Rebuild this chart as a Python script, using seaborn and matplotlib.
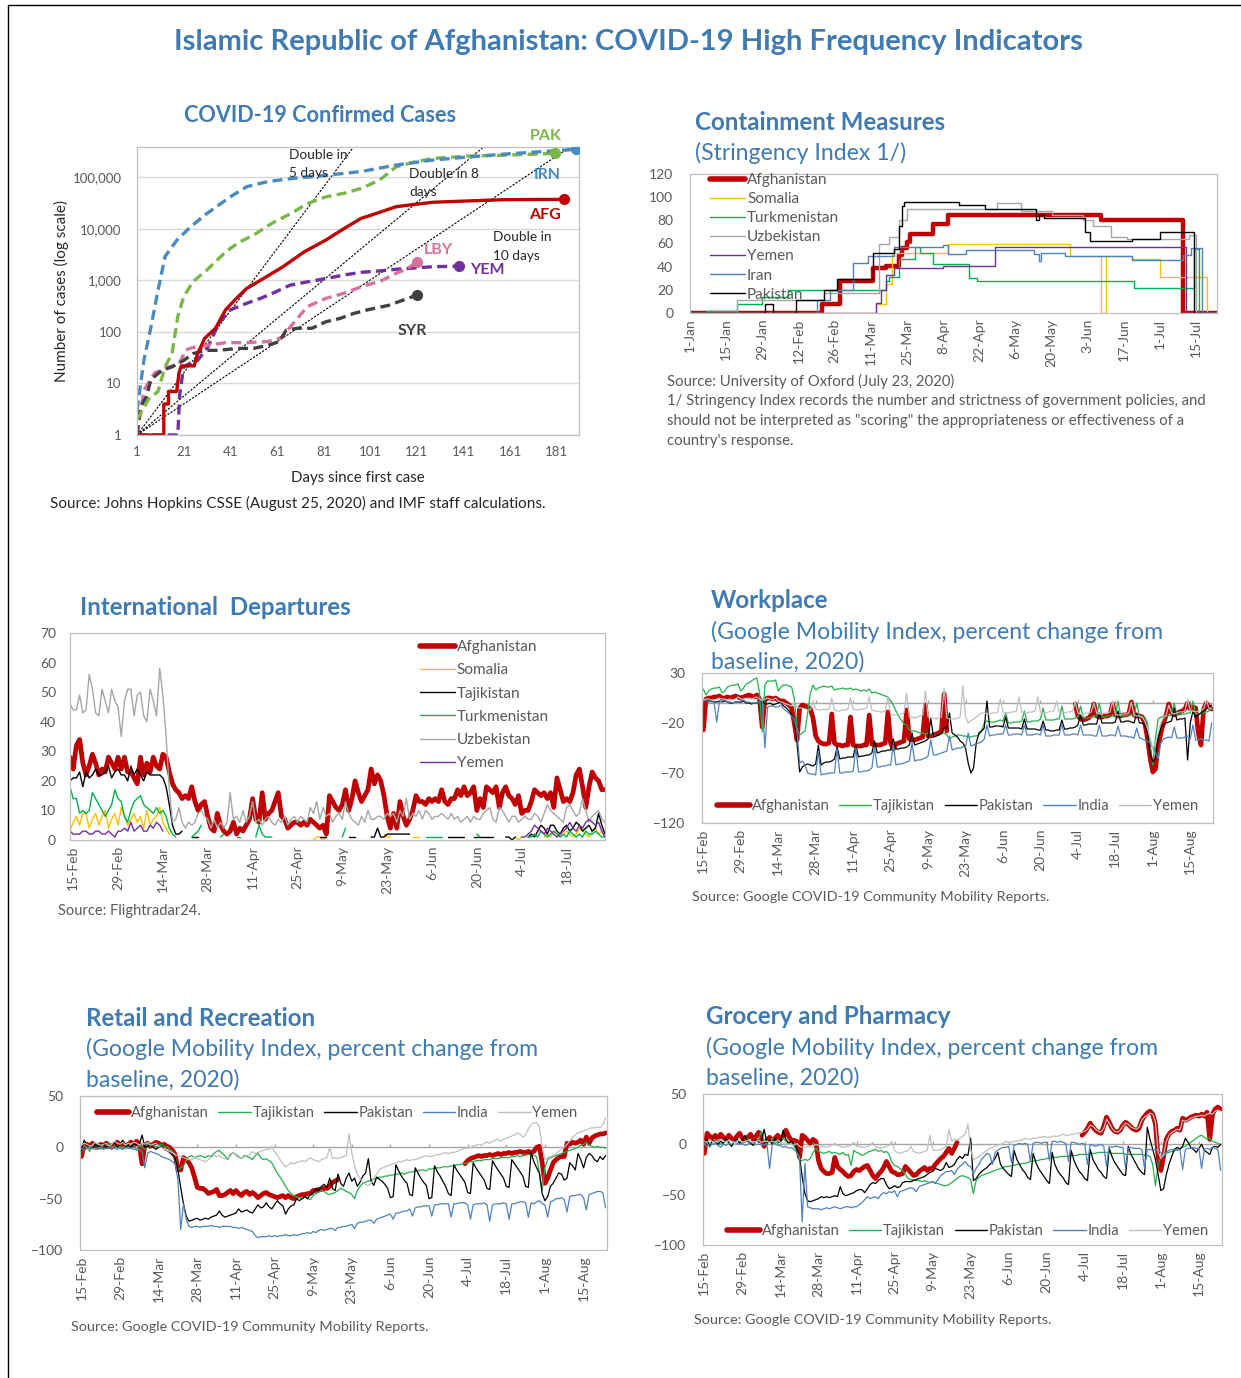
import numpy as np
import pandas as pd
import matplotlib
matplotlib.use('Agg')
import matplotlib.pyplot as plt
from matplotlib.lines import Line2D
from matplotlib.ticker import NullLocator
import seaborn as sns

sns.set_style('white')
plt.rcParams['font.family'] = ['Lato', 'DejaVu Sans']

W, H = 1241, 1378
BLUE = '#3F7AB3'
TICK = '#595959'
FRAME = '#BFBFBF'
RED = '#C00000'

# ---------------- COVID-19 confirmed cases (days since first case, cases)
cases_irn_day = [1, 4, 7, 10, 13, 18, 24, 31, 41, 48, 57, 67, 82, 97, 112, 128, 143, 158, 174, 189]
cases_irn = [3, 29, 126, 640, 2900, 6000, 11000, 20000, 42000, 66000, 83000, 95000, 110000,
             130000, 174000, 218000, 250000, 283000, 316000, 350000]
cases_pak_day = [1, 6, 10, 13, 16, 18.5, 21, 25, 31, 39, 45, 51, 59, 67, 74, 82, 89.5, 97, 105,
                 112, 120, 128, 143, 158, 180]
cases_pak = [2, 5, 7, 21, 38, 200, 480, 950, 1600, 3600, 5600, 7600, 13000, 20000, 31000, 42000,
             49000, 61000, 89000, 160000, 200000, 234000, 260000, 270000, 293000]
cases_afg_day = [1, 12.5, 12.5, 14.5, 14.5, 18, 19, 20, 25.5, 27, 30, 34.6, 39, 43, 48, 53, 57.5,
                 63.6, 72.7, 82, 89.5, 97, 105, 112, 120, 128, 143, 158, 184]
cases_afg = [1, 1, 4, 4, 7, 7, 16, 22, 22, 38, 75, 117, 270, 420, 700, 950, 1260, 1850, 3600, 6100,
             10000, 16000, 21000, 27000, 30000, 33000, 35000, 37000, 37500]
cases_syr_day = [1, 2.5, 5, 7, 11.7, 16, 21, 25, 30, 36, 44, 51, 57, 62, 65, 70, 76, 82, 88, 94,
                 100, 109, 115, 121]
cases_syr = [1, 3.5, 5.5, 12, 18, 21, 28, 38, 44, 44, 48, 48, 55, 65, 109, 118, 118, 158, 183,
             230, 270, 330, 415, 520]
cases_lby_day = [1, 4, 8.6, 14.7, 19, 22, 25, 31, 39, 48, 57, 63, 68, 74, 82, 89.5, 97, 106, 112,
                 117, 121]
cases_lby = [1, 7.5, 16, 21, 24, 45, 50, 55, 62, 62, 65, 78, 147, 310, 450, 560, 750, 1000, 1370,
             1700, 2300]
cases_yem_day = [1, 18.5, 19.3, 21, 24, 27, 31.5, 36, 40.7, 48, 54, 59, 66.6, 74, 82, 89.5, 97, 105,
                 112, 128, 139]
cases_yem = [1, 1, 6, 21, 25, 28, 52, 145, 265, 360, 450, 560, 810, 940, 1090, 1270, 1440, 1530,
             1650, 1850, 1900]
double_days = [5, 8, 10]
case_ticks = [1, 10, 100, 1000, 10000, 100000]
case_tick_labels = ['1', '10', '100', '1,000', '10,000', '100,000']
day_ticks = [1, 21, 41, 61, 81, 101, 121, 141, 161, 181]

# ---------------- Stringency index (date of change, new level)
str_afg_d = ['2020-01-01', '2020-02-21', '2020-02-28', '2020-03-12', '2020-03-17', '2020-03-22',
             '2020-03-23', '2020-03-25', '2020-03-26', '2020-04-04', '2020-04-10', '2020-06-08',
             '2020-07-10', '2020-07-23']
str_afg = [0, 8, 28, 39, 41, 50, 56, 61, 68, 77, 85, 80, 0, 0]
str_som_d = ['2020-01-01', '2020-03-13', '2020-03-17', '2020-03-19', '2020-04-10', '2020-05-27',
             '2020-06-08', '2020-06-10', '2020-06-20', '2020-07-01', '2020-07-19', '2020-07-23']
str_som = [0, 8, 25, 52, 60, 49, 0, 49, 47, 31, 0, 0]
str_tkm_d = ['2020-01-01', '2020-01-07', '2020-01-19', '2020-01-29', '2020-02-08', '2020-03-17',
             '2020-03-18', '2020-03-22', '2020-03-28', '2020-03-30', '2020-04-04', '2020-04-18',
             '2020-04-21', '2020-06-21', '2020-07-14', '2020-07-16', '2020-07-23']
str_tkm = [0, 2, 8, 14, 20, 28, 31, 47, 57, 52, 42, 30, 28, 22, 55, 0, 0]
str_uzb_d = ['2020-01-01', '2020-01-19', '2020-02-22', '2020-03-14', '2020-03-18', '2020-03-22',
             '2020-03-25', '2020-04-29', '2020-05-08', '2020-05-20', '2020-06-01', '2020-06-05',
             '2020-06-12', '2020-06-18', '2020-07-12', '2020-07-15', '2020-07-23']
str_uzb = [0, 11, 17, 60, 66, 80, 90, 95, 88, 85, 80, 75, 66, 64, 67, 0, 0]
str_yem_d = ['2020-01-01', '2020-03-13', '2020-03-15', '2020-03-17', '2020-03-20', '2020-04-08',
             '2020-04-28', '2020-07-11', '2020-07-23']
str_yem = [0, 9, 20, 33, 39, 41, 57, 0, 0]
str_irn_d = ['2020-01-01', '2020-02-19', '2020-02-24', '2020-03-04', '2020-03-10', '2020-03-20',
             '2020-04-08', '2020-04-10', '2020-04-17', '2020-05-13', '2020-05-15', '2020-05-16',
             '2020-05-25', '2020-06-20', '2020-07-10', '2020-07-13', '2020-07-17', '2020-07-23']
str_irn = [0, 11, 20, 43, 49, 57, 59, 51, 54, 51, 45, 52, 49, 46, 50, 56, 0, 0]
str_pak_d = ['2020-01-01', '2020-01-30', '2020-02-02', '2020-02-11', '2020-02-22', '2020-02-27',
             '2020-03-12', '2020-03-20', '2020-03-22', '2020-03-23', '2020-03-24', '2020-04-14',
             '2020-04-24', '2020-05-14', '2020-05-15', '2020-05-17', '2020-06-02', '2020-06-04',
             '2020-06-20', '2020-07-01', '2020-07-14', '2020-07-23']
str_pak = [0, 8, 0, 11, 20, 29, 52, 55, 75, 92, 96, 93, 90, 80, 85, 82, 70, 62, 64, 70, 0, 0]

# ---------------- International departures, daily from 14 Feb
dep_afg = [28, 24, 32, 34, 26, 22, 25, 29, 26, 22, 24, 23, 28, 26, 24, 28, 24, 28, 23, 23, 21,
           19, 28, 22, 26, 23, 28, 25, 24, 29, 28, 23, 19, 17, 16, 14, 15, 14, 18, 13, 10, 12,
           13, 8, 4, 3, 9, 5, 3, 2, 3, 6, 2, 4, 3, 5, 7, 14, 7, 6, 16, 7, 9,
           10, 13, 16, 8, 7, 4, 5, 6, 6, 5, 6, 5, 7, 6, 5, 4, 5, 2, 15, 13, 11,
           10, 12, 17, 10, 14, 20, 16, 13, 15, 17, 24, 19, 22, 20, 15, 8, 4, 9, 4, 13, 8,
           5, 7, 10, 15, 13, 13, 12, 14, 13, 14, 13, 17, 13, 12, 14, 14, 17, 15, 18, 15, 16,
           18, 10, 14, 11, 18, 17, 16, 18, 11, 16, 18, 15, 14, 12, 15, 9, 10, 10, 13, 17, 16,
           15, 16, 14, 16, 11, 21, 17, 13, 14, 13, 16, 22, 24, 18, 11, 18, 23, 21, 20, 17, 17]
dep_som = ([3, 6, 8, 5, 9, 9, 4, 7, 9, 5, 8, 10, 4, 7, 9, 5, 11, 8, 5, 7, 9, 6, 8, 4, 10, 5, 7, 8,
            11, 6, 4, 2] + [None] * 44 + [0, 1, 1, 0, 1] + [None] * 17 + [2, 1, 1] + [None] * 6
           + [1, 1, 1] + [None] * 29 + [1, 0, 1] + [None] * 6
           + [1, 2, 1, 3, 2, 1, 2, 3, 2, 1, 2, 4, 3, 2, 1, 3, 4, 2, 3, 1])
dep_taj = ([20, 21, 21, 23, 18, 23, 21, 22, 24, 22, 22, 23, 25, 21, 23, 24, 22, 22, 20, 25, 22,
            24, 22, 20, 23, 22, 22, 22, 22, 21, 18, 12, 5, 2, 2, 3] + [None] * 2 + [1, 1, 1]
           + [None] * 37 + [1, 1, 1] + [None] * 6 + [1, 1, 1] + [None] * 4 + [1, 1, 4, 1, 1]
           + [2, 2, 2, 2, 2, 2, 2, 2] + [None] * 11 + [1, 1, 1, 1, 1, 1] + [None] * 2
           + [1, 1, 1, 1, 1, 1, 1] + [None] * 3 + [1, 1, 0, 1] + [None] * 3
           + [1, 2, 1, 3, 5, 4, 2, 5, 5, 3, 2, 4, 5, 3, 4, 6, 5, 3, 4, 5, 3, 4, 9, 5, 2])
dep_tkm = ([18, 14, 14, 9, 10, 9, 10, 16, 14, 12, 10, 8, 10, 12, 17, 14, 13, 8, 6, 10, 13, 14, 15,
            12, 11, 10, 9, 11, 9, 10, 8, 4, 2, 1] + [None] * 4 + [1, 2, 3, 5] + [None] * 5
           + [1, 2] + [None] * 3 + [1, 1] + [None] * 4 + [1, 5, 2, 1, 1, 1] + [None] * 21
           + [1, 4] + [None] * 24 + [1, 1, 1, 1, 1, 1] + [None] * 10 + [2, 1] + [None] * 14
           + [1, 1, 2, 1, 3, 2, 1, 2, 3, 2, 1, 2, 1, 3, 2, 1, 2, 1, 3, 2, 2, 3, 2, 1, 1])
dep_uzb = [46, 44, 44, 49, 43, 44, 56, 51, 43, 42, 51, 47, 43, 51, 47, 45, 35, 47, 51, 51, 42,
           49, 50, 42, 40, 51, 47, 42, 58, 49, 35, 17, 6,
           7, 11, 6, 4, 6, 5, 6, 9, 10, 8, 7, 4, 7, 4, 6, 4, 6, 16, 7, 8,
           6, 10, 6, 8, 13, 6, 7, 5, 7, 8, 6, 5, 7, 6, 8, 5, 7, 8, 6, 8,
           7, 6, 11, 9, 13, 7, 11, 8, 9, 6, 8, 9, 7, 13, 9, 7, 6, 5, 8, 6,
           10, 7, 7, 8, 8, 7, 9, 8, 9, 6, 10, 8, 14, 7, 9, 8, 10, 7, 10, 9,
           7, 8, 8, 9, 8, 7, 9, 7, 8, 6, 7, 8, 6, 8, 7, 7, 9, 10, 11, 7,
           6, 11, 10, 8, 6, 8, 8, 6, 7, 8, 7, 7, 9, 8, 6, 9, 12, 10, 9, 8,
           7, 6, 11, 12, 10, 8, 9, 14, 10, 6, 8, 9, 10, 7, 6]
dep_yem = ([3, 2, 2, 2, 3, 3, 2, 2, 3, 3, 2, 2, 3, 2, 1, 3, 3, 4, 3, 6, 3, 4, 5, 3, 3, 5, 4, 6, 5,
            3] + [None] * 111
           + [1, 1, 2, 3, 5, 4, 3, 2, 4, 3, 2, 1, 2, 3, 4, 6, 4, 3, 5, 4, 6, 7, 6, 5, 6, 3, 1])

# ---------------- Google mobility, daily from Sat 15 Feb (one row per week)
N = None
work_afg = [-27, 4, 5, 5, 6, 6, 7,  5, 5, 6, 5, 6, 7, 6,  5, 6, 7, 8, 7, 6, 8,
            4, -24, 3, 5, 5, 4, 5,  3, 2, 2, 0, -2, -5, -20,  -37, -5, -2, -3, -4, -6, -15,
            -33, -38, -40, -41, -41, -40, -11,  -40, -42, -42, -43, -42, -42, -14,
            -42, -43, -43, -43, -42, -42, -12,  -41, -42, -42, -42, -41, -40, -9,
            -40, -46, -41, -40, -39, -38, -7,  -36, -37, -37, -36, -35, -34, -2,
            -33, -33, -32, -31, -30, -28, 9,  -28, N, N, N, N, N, N,
            N, N, N, N, N, N, N,  N, N, N, N, N, N, N,  N, N, N, N, N, N, N,
            N, N, N, N, N, N, N,  N, N, N, N, N, N, N,  N, N, N, N, N, N, -1,
            -13, -16, -17, -16, -15, -12, -1,  -13, -14, -14, -13, -13, -12, -1,
            -12, -13, -13, -12, -12, -11, 1,  -12, -13, -13, -14, -20, -35, -55,
            -69, -66, -42, -30, -20, -12, -1,  -10, -12, -10, -9, -8, -6, 0,
            -6, -4, -5, -30, -42, -6, 0,  -4, -6]
work_taj = [14, 8, 12, 14, 15, 15, 16,  10, 12, 16, 17, 18, 18, 19,  12, 15, 19, 20, 22, 24, 25,
            10, -29, 18, 22, 22, 22, 23,  12, 16, 18, 18, 17, 16, 4,  -25, -32, -30, -28, -10, 10, 18,
            13, 15, 16, 17, 16, 16, 17,  13, 14, 14, 15, 14, 14, 15,  13, 14, 13, 12, 13, 12, 14,
            10, 11, 10, 9, 8, 7, 6,  2, -2, -8, -13, -17, -21, -22,  -27, -28, -28, -29, -30, -30, -31,
            -30, -31, -32, -33, -32, -31, -30,  -32, -36, -34, -33, -32, -32, -33,
            -33, -34, -34, -33, -33, -32, -28,  -20, -18, -19, -19, -19, -18, -17,
            -18, -10, -20, -20, -19, -19, -19,  -18, -8, -19, -19, -18, -18, -18,
            -16, -5, -17, -17, -17, -17, -16,  -16, -3, -16, -16, -16, -16, -15,
            -14, -3, -15, -15, -15, -14, -14,  -13, 0, -14, -14, -13, -13, -13,
            -13, 2, -13, -13, -13, -12, -12,  -13, 0, -14, -14, -14, -20, -45,
            -62, -35, -16, -14, -14, -13, -13,  -12, 0, -12, -12, -11, -11, -10,
            -10, 2, -11, -11, -10, -10, -9,  -8, -4]
work_pak = [2, 3, 2, 2, 1, 1, 2,  1, 2, 1, 0, 0, 1, 1,  1, 2, 0, 0, -1, 0, 0,  1, 2, -1, -1, 0, -2, -1,
            0, 1, -3, -5, -8, -12, -15,  -40, -69, -64, -62, -61, -62, -63,
            -61, -42, -62, -60, -59, -59, -58,  -56, -44, -56, -55, -55, -54, -54,
            -54, -42, -54, -53, -53, -52, -52,  -50, -38, -50, -49, -48, -48, -47,
            -47, -36, -46, -46, -45, -45, -44,  -42, -30, -42, -41, -40, -39, -38,
            -36, -15, -34, -33, -32, -30, -25,  -25, -10, -30, -32, -34, -38, -40,
            -45, -60, -70, -65, -40, -30, -28,  -25, 2, -24, -24, -23, -23, -23,
            -24, -14, -25, -25, -25, -25, -25,  -26, -16, -26, -26, -26, -26, -27,
            -27, -18, -27, -27, -28, -28, -27,  -27, -17, -26, -26, -25, -25, -24,
            -22, -12, -22, -22, -21, -21, -21,  -21, -10, -20, -20, -20, -20, -20,
            -19, -8, -19, -19, -18, -18, -19,  -20, -10, -20, -20, -22, -30, -50,
            -59, -55, -35, -25, -22, -20, -19,  -18, -5, -17, -16, -16, -15, -57,
            -20, -8, -14, -12, -10, -8, -6,  -4, -2]
work_ind = [2, 3, 1, 1, 1, -19, 1,  2, 3, 1, 1, 0, 1, 1,  2, 3, 1, 1, 0, 0, 0,
            1, 3, -45, -4, -3, -3, -4,  -4, -2, -6, -8, -10, -13, -16,  -28, -60, -58, -62, -70, -71, -71,
            -72, -48, -72, -71, -71, -70, -70,  -70, -46, -70, -70, -69, -69, -69,
            -68, -45, -69, -69, -68, -68, -67,  -65, -44, -64, -64, -63, -63, -62,
            -62, -42, -62, -61, -61, -60, -59,  -58, -40, -58, -57, -57, -56, -55,
            -53, -37, -52, -52, -51, -50, -49,  -48, -33, -47, -46, -45, -45, -44,
            -44, -30, -43, -42, -41, -40, -39,  -36, -22, -33, -32, -32, -31, -31,
            -31, -22, -32, -32, -31, -31, -31,  -32, -22, -32, -32, -32, -31, -31,
            -32, -22, -33, -33, -33, -32, -32,  -32, -21, -32, -32, -32, -31, -31,
            -32, -22, -32, -32, -32, -32, -33,  -33, -22, -33, -33, -33, -32, -32,
            -33, -23, -33, -33, -33, -34, -34,  -35, -25, -35, -36, -37, -38, -40,
            -45, -50, -55, -40, -36, -35, -34,  -35, -24, -35, -35, -35, -34, -33,
            -36, -22, -37, -37, -36, -37, -37,  -38, -20]
work_yem = [3, 4, 4, 3, 3, 4, 5,  4, 4, 3, 4, 3, 4, 6,  4, 4, 5, 4, 4, 5, 6,  4, 3, 4, 5, 4, 3, 5,
            2, 1, 0, -1, -2, -3, 0,  -4, -5, -5, -6, -7, -7, 2,  -6, -7, -7, -6, -7, -6, 5,
            -7, -8, -8, -7, -7, -6, 5,  -6, -7, -7, -6, -6, -5, 6,  -7, -8, -8, -9, -9, -8, 6,
            -11, -12, -12, -12, -11, -10, 10,  -14, -14, -15, -14, -13, -12, 12,
            -14, -15, -15, -16, -15, -14, 15,  -15, -16, -16, -16, -15, -14, 17,
            -14, -20, -18, -16, -14, -12, -10,  -10, -11, -11, -10, -10, -9, 4,
            -9, -10, -10, -9, -9, -8, 6,  -9, -10, -10, -9, -9, -8, 6,  -9, -10, -10, -9, -8, -8, 2,
            -9, -10, -10, -9, -9, -8, 1,  -10, -11, -11, -10, -10, -9, 0,  -10, -11, -11, -10, -10, -9, 2,
            -11, -12, -12, -11, -11, -10, 1,  -12, -13, -13, -14, -18, -25, -35,
            -45, -40, -30, -20, -15, -12, -2,  -10, -11, -10, -9, -9, -8, 4,
            -8, -8, -9, -8, -7, -6, 3,  -5, -6]

ret_afg = [-9, 2, 3, 1, 4, 2, 0,  3, 1, 4, 2, 0, 3, 5,  2, 4, 1, 3, 5, 2, 6,  3, -16, 2, 4, 1, 3, 5,
           4, 2, 3, 1, 0, -3, -7,  -22, -22, -10, -12, -15, -20, -29,
           -39, -40, -40, -42, -45, -44, -43,  -41, -47, -47, -46, -44, -42, -45,
           -42, -45, -47, -44, -43, -46, -44,  -46, -49, -47, -45, -44, -46, -47,
           -48, -49, -48, -47, -49, -47, -49,  -50, -48, -47, -46, -46, -45, -45,
           -42, -42, -41, -41, -40, -40, -38,  -34, -33, -31, N, N, N, N,
           N, N, N, N, N, N, N,  N, N, N, N, N, N, N,  N, N, N, N, N, N, N,
           N, N, N, N, N, N, N,  N, N, N, N, N, N, N,  N, N, N, N, N, N, -16,
           -13, -11, -10, -9, -8, -9, -8,  -8, -7, -8, -7, -6, -7, -6,  -6, -5, -6, -5, -5, -4, -5,
           -5, -4, -5, -4, 0, 1, -15,  -35, -30, -22, -15, -12, -10, -9,  -9, 4, 3, 5, 4, 5, 7,
           3, 10, 4, 9, 11, 12, 13,  13, 14]
ret_taj = [-3, 2, 0, -4, 1, 3, 0,  -2, 3, 1, 5, -1, 2, 0,  1, -2, 3, 0, 4, 2, -3,  2, 0, -2, 4, 1, 3, 0,
           2, 3, 0, 1, -2, -4, -8,  -22, -20, -18, -13, -9, -8, -10,  -9, -8, -9, -10, -8, -9, -6,
           -4, -3, -6, -8, -12, -7, -5,  -7, -9, -11, -8, -9, -10, -12,  -8, -6, -10, -12, -11, -13, -15,
           -20, -25, -29, -33, -38, -42, -45,  -47, -48, -49, -50, -48, -50, -51,
           -47, -45, -44, -42, -43, -45, -46,  -45, -44, -42, -40, -41, -43, -44,
           -46, -50, -42, -38, -35, -34, -33,  -32, -31, -30, -29, -29, -28, -28,
           -27, -27, -26, -26, -25, -26, -25,  -24, -24, -23, -23, -22, -22, -23,
           -21, -21, -20, -20, -20, -19, -19,  -19, -18, -18, -17, -17, -16, -16,
           -15, -14, -14, -13, -13, -13, -12,  -12, -12, -11, -11, -11, -10, -10,
           -10, -10, -9, -9, -8, -9, -8,  -8, -7, -7, -8, -9, -25, -42,
           -20, -12, -10, -9, -8, -7, -6,  -5, -4, -3, -2, -1, 0, 2,  3, 5, 2, 1, 0, 1, 0,  0, -1]
ret_pak = [-3, 7, 2, 0, -1, 3, 1,  2, 4, 0, 1, 3, 5, 0,  3, 7, 1, 2, 0, 4, 2,  3, 12, 0, 1, 2, 0, -2,
           0, 1, -2, -3, -5, -8, -10,  -22, -39, -55, -67, -72, -71, -70,
           -69, -71, -70, -69, -70, -68, -67,  -66, -62, -66, -68, -67, -66, -65,
           -64, -60, -63, -62, -61, -63, -64,  -60, -56, -59, -58, -54, -58, -60,
           -56, -52, -55, -57, -65, -60, -57,  -56, -50, -52, -50, -48, -50, -46,
           -45, -40, -42, -38, -36, -39, -30,  -40, -42, -26, -35, -38, -30, -25,
           -33, -30, -38, -34, -28, -25, -11,  -33, -37, -29, -31, -33, -36, -40,
           -49, -48, -17, -23, -28, -32, -35,  -46, -47, -20, -25, -30, -34, -37,
           -50, -49, -18, -24, -28, -33, -38,  -45, -47, -17, -22, -26, -30, -34,
           -44, -45, -15, -20, -24, -28, -32,  -40, -41, -13, -18, -22, -26, -30,
           -38, -39, -12, -16, -20, -24, -28,  -38, -39, -5, -14, -20, -25, -45,
           -52, -48, -38, -35, -30, -25, -26,  -32, -30, -15, -18, -22, -6, -12,
           -20, -10, -6, -8, -12, -14, -9,  -12, -8]
ret_ind = [-1, -3, -1, 0, -1, -2, -1,  0, -2, -1, -1, 0, -1, -2,  -1, -2, 0, -1, -1, -2, -2,
           -2, -4, -20, -6, -4, -5, -6,  -7, -9, -10, -11, -12, -14, -16,  -32, -80, -55, -70, -77, -78, -77,
           -77, -78, -77, -77, -77, -76, -77,  -77, -78, -77, -77, -77, -77, -78,
           -78, -79, -78, -79, -80, -81, -82,  -86, -88, -87, -87, -87, -86, -87,
           -86, -87, -86, -86, -85, -86, -86,  -85, -86, -85, -84, -84, -83, -84,
           -82, -83, -81, -80, -81, -80, -79,  -79, -81, -78, -78, -77, -77, -76,
           -75, -79, -74, -73, -73, -72, -71,  -71, -74, -70, -69, -68, -67, -66,
           -65, -70, -64, -64, -63, -62, -62,  -60, -67, -59, -58, -58, -57, -57,
           -57, -67, -56, -56, -55, -55, -55,  -55, -68, -55, -55, -54, -54, -54,
           -56, -70, -56, -55, -55, -55, -54,  -56, -72, -56, -55, -55, -55, -54,
           -55, -70, -55, -55, -54, -53, -53,  -54, -68, -54, -55, -53, -52, -55,
           -56, -68, -53, -52, -50, -50, -49,  -51, -63, -48, -47, -47, -46, -46,
           -49, -61, -46, -45, -44, -43, -43,  -44, -59]
ret_yem = [2, 4, 3, 1, 2, 5, 3,  2, 3, 4, 1, 3, 6, 4,  3, 5, 2, 4, 3, 5, 4,  2, 4, 3, 5, 2, 3, 4,
           1, 0, -2, -3, -4, -5, -7,  -8, -9, -10, -11, -12, -12, -10,  -11, -12, -13, -14, -12, -10, -8,
           -9, -8, -10, -11, -10, -9, -5,  -8, -10, -11, -9, -8, -7, -4,  -6, -5, -4, -3, -2, -2, 1,
           -4, -8, -12, -16, -19, -17, -15,  -16, -15, -14, -13, -14, -12, -10,
           -12, -13, -14, -12, -11, -10, 0,  -11, -10, -11, -10, -9, -8, 13,
           -5, -18, -26, -30, -34, -36, -37,  -35, -30, -26, -22, -20, -19, -18,
           -17, -16, -15, -14, -14, -13, -12,  -13, -12, -12, -11, -10, -9, -8,
           -9, -9, -8, -7, -7, -6, -5,  -6, -5, -5, -4, -3, -2, -1,  -1, 0, 1, 2, 3, 2, 4,
           5, 4, 6, 7, 8, 6, 8,  9, 10, 11, 12, 14, 13, 10,  12, 18, 22, 24, 24, 20, 1,
           -12, -10, -9, -8, -6, -4, -2,  0, 3, 6, 10, 12, 14, 15,  16, 17, 18, 19, 19, 20, 19,  22, 29]

gro_afg = [-9, 11, 8, 6, 9, 5, 10,  7, 5, 9, 6, 4, 8, 11,  6, 4, 7, 10, 5, 8, 12,  5, -2, 4, 7, 3, 6, 9,
           5, 8, 14, 8, 4, 4, 3,  -13, 9, 7, 4, 1, 5, 3,  -16, -24, -27, -29, -29, -28, -13,
           -22, -25, -27, -30, -32, -31, -27,  -25, -26, -24, -22, -21, -26, -31,
           -34, -30, -27, -23, -17, -22, -27,  -28, -30, -30, -29, -22, -25, -28,
           -31, -30, -27, -25, -23, -26, -24,  -24, -20, -17, -14, -12, -8, -4,
           -9, -4, 2, N, N, N, N,  N, N, N, N, N, N, N,  N, N, N, N, N, N, N,
           N, N, N, N, N, N, N,  N, N, N, N, N, N, N,  N, N, N, N, N, N, N,  N, N, N, N, N, N, 9,
           12, 16, 21, 17, 14, 12, 11,  18, 27, 22, 16, 13, 12, 14,  19, 22, 20, 17, 15, 14, 16,
           24, 28, 31, 33, 30, 20, -13,  -26, -12, 5, 10, 13, 14, 16,  14, 26, 24, 25, 27, 28, 29,
           28, 30, 28, 32, 5, 30, 35,  37, 35]
gro_taj = [1, 2, -3, 3, 4, 1, 0,  2, 5, 1, -2, 3, 4, 2,  1, 3, 6, 2, -1, 4, 5,  13, 3, 4, 2, 6, 3, 1,
           4, 6, 3, 1, 2, -2, -6,  -17, -16, -15, -16, -14, -8, -4,  -7, -8, -9, -8, -7, -9, -8,
           -9, -10, -8, -11, -10, -21, -6,  -8, -9, -11, -10, -8, -7, -6,  -5, -7, -6, -8, -7, -10, -18,
           -21, -22, -24, -26, -30, -34, -35,  -35, -36, -36, -37, -36, -37, -38,
           -37, -38, -39, -40, -41, -41, -40,  -38, -36, -34, -32, -31, -32, -33,
           -35, -49, -36, -33, -31, -30, -29,  -28, -27, -26, -25, -24, -23, -22,
           -22, -21, -21, -20, -20, -19, -19,  -18, -17, -17, -16, -16, -15, -15,
           -14, -14, -13, -13, -13, -12, -12,  -12, -12, -11, -11, -11, -10, -10,
           -10, -10, -9, -9, -9, -8, -8,  -8, -8, -8, -9, -9, -9, -9,  -9, -10, -10, -10, -10, -10, -10,
           -10, -11, -11, -12, -20, -41, -20,  -12, -10, -9, -8, -7, -6, -5,  -4, -3, -2, 0, 2, 4, 6,
           8, 9, 7, 5, 6, 3, 2,  1, 0]
gro_pak = [2, 5, -1, 4, 2, 0, 3,  1, 6, 2, -2, 3, 5, 1,  4, 9, 3, 1, -1, 5, 2,  3, 15, 2, 4, 0, 6, 3,
           2, 14, 5, 1, 3, 0, -4,  -12, -32, -49, -56, -57, -56, -55,  -54, -52, -53, -52, -53, -52, -51,
           -52, -42, -49, -51, -50, -49, -48,  -46, -45, -45, -48, -44, -40, -38,
           -39, -36, -34, -34, -40, -44, -43,  -41, -43, -42, -38, -37, -37, -37,
           -36, -35, -34, -33, -32, -30, -28,  -27, -24, -25, -26, -24, -18, -23,
           -22, -20, -15, -12, -14, -10, -11,  6, -36, -34, -30, -27, -25, -23,
           -20, -18, -14, -8, -20, -24, -27,  -30, -32, -6, -15, -20, -25, -28,
           -33, -35, -9, -18, -24, -28, -32,  -36, -39, -8, -20, -26, -30, -33,
           -38, -40, -6, -16, -22, -27, -30,  -34, -36, -5, -15, -20, -25, -28,
           -32, -34, -4, -12, -18, -22, -26,  -30, -31, -2, -10, -15, -20, -25,
           -28, -30, 17, 5, -5, -15, -30,  -46, -44, -30, -20, -12, -5, -3,
           -5, -2, 6, 2, -3, -5, -8,  -4, 0, -6, -8, -10, -3, -2,  -3, 0]
gro_ind = [0, -2, 1, 0, 1, -1, -3,  0, -1, 1, 0, 2, 1, 0,  1, -1, 0, 2, 1, 0, 0,  0, -1, 1, -24, 0, 1, -1,
           -1, -3, -2, -4, -3, -5, -8,  -12, -77, -19, -62, -63, -64, -64,  -64, -65, -64, -63, -64, -63, -62,
           -63, -64, -63, -62, -62, -63, -62,  -62, -60, -58, -55, -52, -54, -53,
           -52, -54, -50, -48, -49, -47, -48,  -46, -52, -47, -46, -45, -44, -43,
           -44, -47, -42, -41, -40, -39, -38,  -37, -39, -35, -31, -29, -27, -27,
           -26, -30, -25, -22, -20, -17, -21,  -22, -29, -24, -20, -15, -12, -9,
           -10, -20, -8, -6, -4, -3, -3,  -2, -18, -1, 0, 1, 0, 1,  0, -17, 1, 2, 2, 1, 2,
           2, -16, 3, 3, 2, 3, 2,  1, -17, 2, 2, 1, 0, 1,  0, -20, 0, -1, -2, -1, 0,
           -2, -22, -2, -3, -2, -2, -3,  -3, -23, -4, -3, -4, -4, -4,  -5, -24, -5, -5, -6, -5, -6,
           -8, -12, -8, -6, -5, -5, -6,  -5, -25, -5, -4, -4, -3, -4,  -4, -24, -5, -4, -5, -3, -4,
           -5, -26]
gro_yem = [3, 2, 4, 3, 2, 4, 5,  3, 2, 4, 3, 2, 3, 5,  2, 3, 4, 3, 2, 3, 4,  2, 3, 3, 2, 3, 2, 4,
           2, 1, 1, 0, 0, -1, 1,  -2, -3, -3, -2, -3, -2, 0,  -1, -2, -2, -3, -2, -1, 1,
           -1, -2, -3, -2, -2, -1, 2,  -2, -2, -3, -3, -2, -1, 2,  -3, -3, -4, -3, -2, -1, 3,
           -6, -8, -9, -8, -7, -6, -2,  -7, -8, -9, -8, -7, -6, 9,  -5, -6, -6, -5, -4, -2, 15,
           3, 5, 4, 6, 8, 10, 20,  -5, -15, -14, -12, -10, -8, -6,  -4, -3, -2, -1, 0, 1, 3,
           2, 2, 3, 3, 4, 4, 6,  5, 5, 6, 6, 7, 7, 8,  7, 7, 8, 8, 8, 9, 10,  9, 9, 10, 10, 11, 11, 12,
           13, 15, 19, 18, 15, 13, 12,  16, 25, 21, 16, 13, 12, 14,  18, 21, 20, 17, 16, 15, 17,
           24, 27, 29, 31, 30, 22, -8,  -14, -10, 3, 9, 12, 13, 15,  14, 24, 23, 24, 26, 27, 28,
           28, 29, 28, 30, 31, 30, 33,  34, 33]

mob_start = '2020-02-15'
mob_ticks = pd.date_range('2020-02-15', '2020-08-15', freq='14D')
dep_ticks = pd.date_range('2020-02-15', '2020-07-18', freq='14D')
str_ticks = pd.date_range('2020-01-01', '2020-07-15', freq='14D')

fig = plt.figure(figsize=(W / 100, H / 100), dpi=100)


def ax_at(l, t, r, b):
    ax = fig.add_axes([l / W, 1 - b / H, (r - l) / W, (b - t) / H])
    for s in ax.spines.values():
        s.set_color(FRAME)
        s.set_linewidth(0.9)
    ax.tick_params(labelcolor=TICK, labelsize=10, length=0)
    return ax


def txt(x, y, s, **kw):
    kw.setdefault('va', 'center')
    fig.text(x / W, 1 - y / H, s, **kw)


def line(ax, x, y, **kw):
    s = pd.Series(np.array(y, dtype=float), index=x)
    ok = s.notna()
    grp = (~ok).cumsum()
    for _, seg in s[ok].groupby(grp[ok]):
        if len(seg) > 1:
            sns.lineplot(x=seg.index, y=seg.values, ax=ax, estimator=None, sort=False,
                         legend=False, **kw)


def date_axis(ax, ticks, lo, hi):
    ax.set_xticks(ticks)
    ax.set_xticklabels([f'{d.day}-{d.strftime("%b")}' for d in ticks], rotation=90)
    ax.set_xlim(pd.Timestamp(lo), pd.Timestamp(hi))
    ax.set_xlabel('')
    ax.set_ylabel('')


def legend(ax, items, size=11, **kw):
    handles = [Line2D([], [], color=c, lw=lw) for _, c, lw in items]
    ax.legend(handles, [n for n, _, _ in items], frameon=False, prop={'size': size},
              labelcolor=TICK, borderpad=0, borderaxespad=0, handletextpad=0.12, **kw)


thick = dict(color=RED, lw=3.4, solid_capstyle='round', solid_joinstyle='round')
TITLE = dict(fontsize=17.4, fontweight='bold', color=BLUE)
SUB = dict(fontsize=16.6, color=BLUE)

# outer frame and main title
fig.add_artist(Line2D([8 / W, 8 / W], [0, 1 - 5 / H], color='black', lw=1))
fig.add_artist(Line2D([8 / W, 1], [1 - 5 / H, 1 - 5 / H], color='black', lw=1))
txt(628, 42, 'Islamic Republic of Afghanistan: COVID-19 High Frequency Indicators',
    ha='center', fontsize=21, fontweight='bold', color=BLUE)

# ---------------- panel 1
ax = ax_at(137, 147, 579, 435)
ax.set_yscale('log')
ax.yaxis.grid(True, color='#D9D9D9', lw=1)
ax.set_axisbelow(True)
for n in double_days:
    sns.lineplot(x=[1, 190], y=[1, 2 ** (189 / n)], ax=ax, color='black', lw=0.8,
                 linestyle=(0, (2, 1.3)), estimator=None, sort=False, legend=False)
cases = [(cases_yem_day, cases_yem, '#7030A0', True), (cases_lby_day, cases_lby, '#D7729F', True),
         (cases_syr_day, cases_syr, '#404040', True), (cases_pak_day, cases_pak, '#7AB648', True),
         (cases_irn_day, cases_irn, '#4A8BBF', True), (cases_afg_day, cases_afg, RED, False)]
for d, v, c, dashed in cases:
    sns.lineplot(x=d, y=v, ax=ax, color=c, lw=2.4, estimator=None, sort=False, legend=False,
                 linestyle=(0, (3, 1.6)) if dashed else '-')
    sns.scatterplot(x=[d[-1]], y=[v[-1]], ax=ax, color=c, s=65, linewidth=0, zorder=5, legend=False)
ax.set_xlim(1, 190.5)
ax.set_ylim(1, 3.9e5)
ax.set_yticks(case_ticks)
ax.set_yticklabels(case_tick_labels)
ax.yaxis.set_minor_locator(NullLocator())
ax.set_xticks(day_ticks)
ax.tick_params(axis='both', labelsize=9.5)
ax.tick_params(axis='x', direction='in', length=4, color=FRAME, pad=8)
ax.tick_params(axis='y', pad=11)
ax.set_xlabel('')
ax.set_ylabel('')
txt(320, 116, 'COVID-19 Confirmed Cases', ha='center', fontsize=15.6, fontweight='bold', color=BLUE)
txt(61, 291, 'Number of cases (log scale)', ha='center', rotation=90, fontsize=11, color='#262626')
txt(358, 478, 'Days since first case', ha='center', fontsize=10.8, color='#262626')
txt(50, 503, 'Source: Johns Hopkins CSSE (August 25, 2020) and IMF staff calculations.',
    fontsize=11, color='#262626')
for x, y, s, c in [(546, 136, 'PAK', '#7AB648'), (547, 175, 'IRN', '#4A8BBF'), (545, 215, 'AFG', RED),
                   (438, 250, 'LBY', '#D7729F'), (487, 270, 'YEM', '#7030A0'), (412, 331, 'SYR', '#404040')]:
    txt(x, y, s, ha='center', fontsize=11.5, fontweight='bold', color=c)
for x, y, s in [(289, 155, 'Double in'), (289, 173, '5 days'), (409, 174, 'Double in 8'),
                (409, 192, 'days'), (493, 237, 'Double in'), (493, 256, '10 days')]:
    txt(x, y, s, fontsize=9.8, color='#262626')

# ---------------- panel 2
ax = ax_at(690, 174, 1217, 313)
strings = [('Afghanistan', str_afg_d, str_afg, RED, 3.2), ('Somalia', str_som_d, str_som, '#FFC000', 1),
           ('Turkmenistan', str_tkm_d, str_tkm, '#00B050', 1), ('Uzbekistan', str_uzb_d, str_uzb, '#A6A6A6', 1),
           ('Yemen', str_yem_d, str_yem, '#7030A0', 1), ('Iran', str_irn_d, str_irn, '#4F81BD', 1),
           ('Pakistan', str_pak_d, str_pak, '#000000', 1)]
for name, d, v, c, lw in strings:
    sns.lineplot(x=pd.to_datetime(d), y=v, ax=ax, color=c, lw=lw, drawstyle='steps-post',
                 estimator=None, sort=False, legend=False)
date_axis(ax, str_ticks, '2020-01-01', '2020-07-23')
ax.set_ylim(0, 120)
ax.set_yticks(range(0, 121, 20))
ax.tick_params(axis='x', direction='in', length=4, color=FRAME, pad=4)
ax.tick_params(axis='y', pad=12)
legend(ax, [(n, c, 4 if n == 'Afghanistan' else 1) for n, _, _, c, _ in strings],
       loc='upper left', bbox_to_anchor=(0.038, 1.005), labelspacing=0.33, handlelength=2.3)
txt(695, 122, 'Containment Measures', **TITLE)
txt(695, 153, '(Stringency Index 1/)', **SUB)
for y, s in [(381, 'Source: University of Oxford (July 23, 2020)'),
             (401, '1/ Stringency Index records the number and strictness of government policies, and'),
             (421, 'should not be interpreted as "scoring" the appropriateness or effectiveness of a'),
             (441, "country's response.")]:
    txt(667, y, s, fontsize=10.7, color=TICK)

# ---------------- panel 3
ax = ax_at(70, 633, 605, 840)
deps = [('Afghanistan', dep_afg, None, 3.4), ('Somalia', dep_som, '#FFC000', 1),
        ('Tajikistan', dep_taj, '#000000', 1), ('Turkmenistan', dep_tkm, '#00B050', 1),
        ('Uzbekistan', dep_uzb, '#A6A6A6', 1), ('Yemen', dep_yem, '#7030A0', 1)]
for name, v, c, lw in deps:
    x = pd.date_range('2020-02-14', periods=len(v))
    if c is None:
        line(ax, x, v, **thick)
    else:
        line(ax, x, v, color=c, lw=lw)
date_axis(ax, dep_ticks, '2020-02-14', '2020-07-30')
ax.set_ylim(0, 70)
ax.set_yticks(range(0, 71, 10))
ax.tick_params(axis='x', direction='in', length=4, color=FRAME, pad=4)
ax.tick_params(axis='y', pad=10)
legend(ax, [(n, RED if c is None else c, 4 if c is None else 1) for n, _, c, _ in deps],
       loc='upper left', bbox_to_anchor=(0.654, 0.965), labelspacing=0.6, handlelength=2.3)
txt(80, 608, 'International  Departures', **TITLE)
txt(58, 911, 'Source: Flightradar24.', fontsize=10.5, color=TICK)

# ---------------- mobility panels
mob_items = [('Afghanistan', RED, 4), ('Tajikistan', '#22B14C', 1), ('Pakistan', '#000000', 1),
             ('India', '#4F81BD', 1), ('Yemen', '#BFBFBF', 1)]


def mobility(box, data, ylim, yticks, leg_anchor):
    ax = ax_at(*box)
    ax.axhline(0, color='#A6A6A6', lw=1)
    # short category-axis ticks standing on the zero line
    ax.vlines(mob_ticks, 0, (ylim[1] - ylim[0]) * 0.02, color='#A6A6A6', lw=0.9)
    for (name, c, lw), v in zip(mob_items, data):
        x = pd.date_range(mob_start, periods=len(v))
        if name == 'Afghanistan':
            line(ax, x, v, **thick)
        else:
            line(ax, x, v, color=c, lw=0.9)
    date_axis(ax, mob_ticks, '2020-02-14 12:00', '2020-08-23 12:00')
    ax.set_ylim(*ylim)
    ax.set_yticks(yticks)
    ax.tick_params(axis='x', pad=4)
    ax.tick_params(axis='y', pad=12)
    legend(ax, mob_items, size=10.6, loc='center left', bbox_to_anchor=leg_anchor, ncol=5,
           handlelength=2.2, columnspacing=0.65)
    return ax


mobility((702, 673, 1213, 823), [work_afg, work_taj, work_pak, work_ind, work_yem],
         (-120, 30), [30, -20, -70, -120], (0.03, 0.113))
txt(711, 601, 'Workplace', **TITLE)
txt(711, 632, '(Google Mobility Index, percent change from', **SUB)
txt(711, 662, 'baseline, 2020)', **SUB)
txt(692, 897, 'Source: Google COVID-19 Community Mobility Reports.', fontsize=10.4, color=TICK)

mobility((80, 1096, 607, 1250), [ret_afg, ret_taj, ret_pak, ret_ind, ret_yem],
         (-100, 50), [50, 0, -50, -100], (0.032, 0.89))
txt(86, 1018, 'Retail and Recreation', **TITLE)
txt(86, 1049, '(Google Mobility Index, percent change from', **SUB)
txt(86, 1080, 'baseline, 2020)', **SUB)
txt(71, 1327, 'Source: Google COVID-19 Community Mobility Reports.', fontsize=10.4, color=TICK)

mobility((703, 1094, 1222, 1245), [gro_afg, gro_taj, gro_pak, gro_ind, gro_yem],
         (-100, 50), [50, 0, -50, -100], (0.047, 0.093))
txt(706, 1016, 'Grocery and Pharmacy', **TITLE)
txt(706, 1048, '(Google Mobility Index, percent change from', **SUB)
txt(706, 1078, 'baseline, 2020)', **SUB)
txt(694, 1320, 'Source: Google COVID-19 Community Mobility Reports.', fontsize=10.4, color=TICK)

fig.savefig('out.png', dpi=100)
